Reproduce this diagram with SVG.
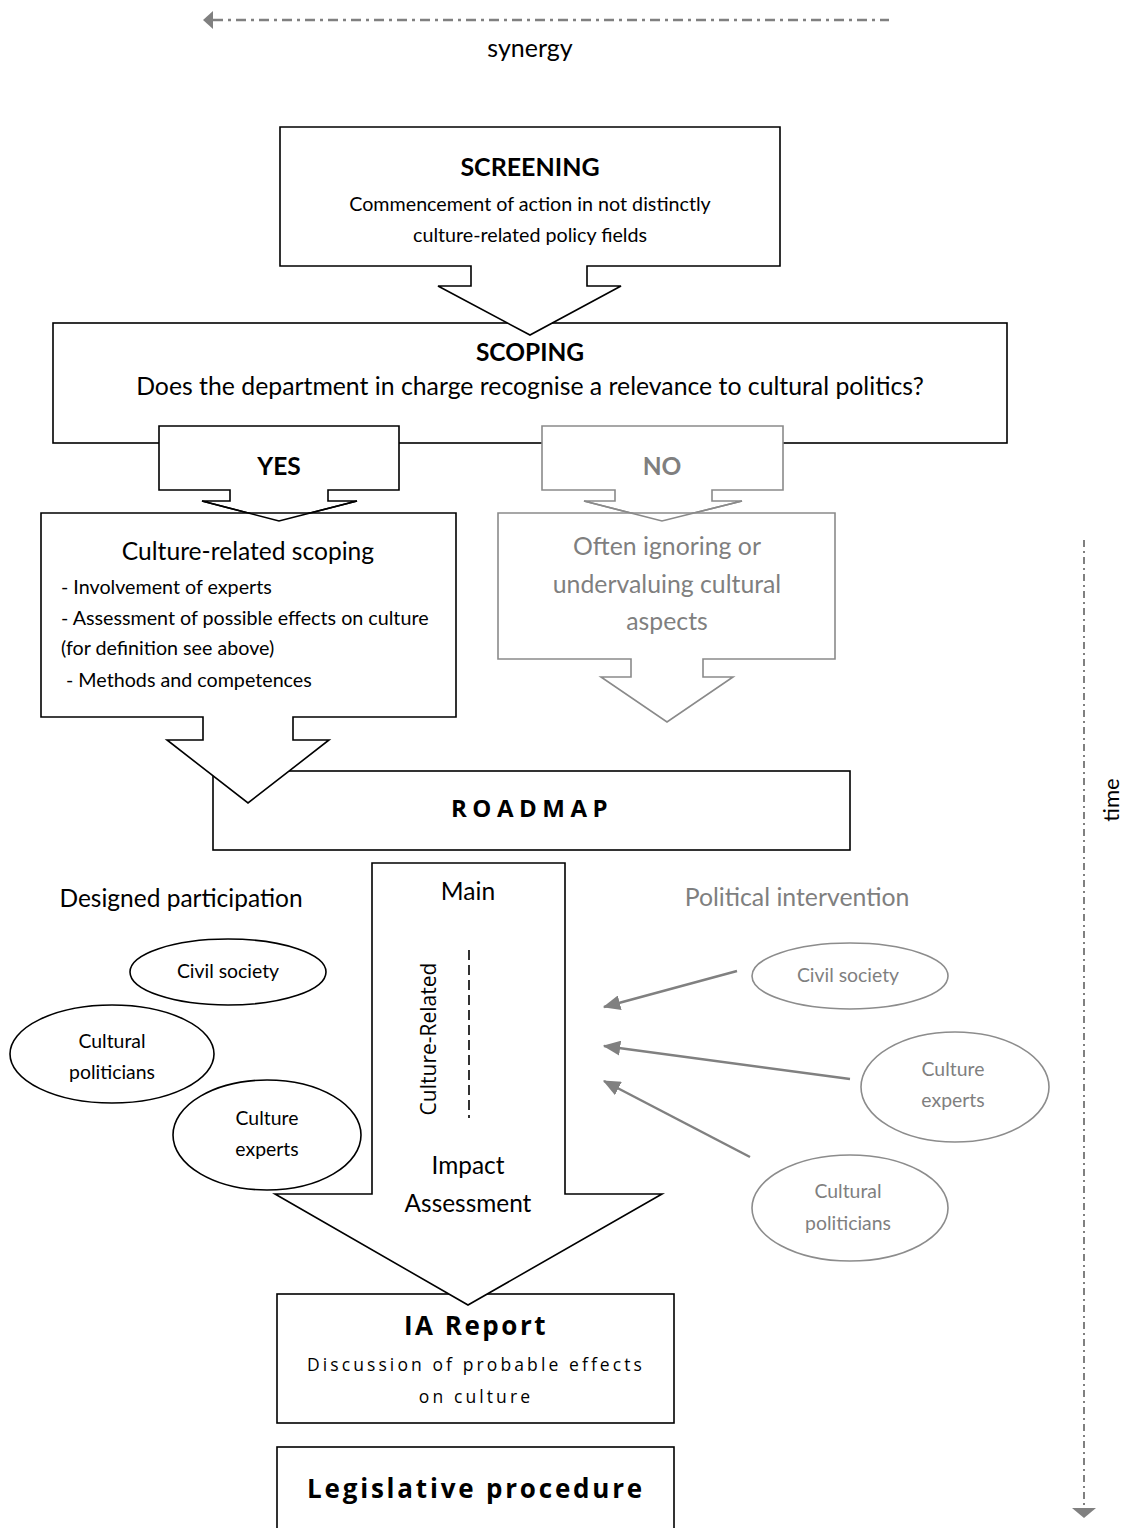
<svg xmlns="http://www.w3.org/2000/svg" width="1126" height="1528" viewBox="0 0 1126 1528">
<defs>
<style>
.box{fill:#fff;stroke:#000;stroke-width:1.6}
.boxn{fill:none;stroke:#000;stroke-width:1.6}
.gbox{fill:#fff;stroke:#8a8a8a;stroke-width:1.6}
.gline{fill:none;stroke:#8a8a8a;stroke-width:1.6}
.t{font-family:Lato,"Open Sans","Liberation Sans",sans-serif;fill:#000;text-anchor:middle}
.tl{font-family:Lato,"Open Sans","Liberation Sans",sans-serif;fill:#000}
.o{font-family:"Open Sans","Liberation Sans",sans-serif;fill:#000;text-anchor:middle}
.g{fill:#7f7f7f}
.b{font-weight:bold}
.ell{fill:none;stroke:#000;stroke-width:1.6}
.gell{fill:none;stroke:#8c8c8c;stroke-width:1.6}
.garr{stroke:#808080;stroke-width:2.5;fill:none}
.et{font-size:19.4px}
</style>
<marker id="ah" markerWidth="7" markerHeight="6" refX="6.5" refY="3" orient="auto" markerUnits="strokeWidth">
<path d="M0,0 L7,3 L0,6 Z" fill="#808080"/>
</marker>
</defs>
<rect width="1126" height="1528" fill="#fff"/>

<g id="synergy">
<line x1="213" y1="20" x2="889" y2="20" stroke="#808080" stroke-width="2.5" stroke-dasharray="10 5 3 5"/>
<polygon points="203,20 213,11 213,29" fill="#808080"/>
<text class="t" x="530" y="57" font-size="25">synergy</text>
</g>

<g id="time">
<line x1="1084" y1="540" x2="1084" y2="1508" stroke="#808080" stroke-width="2" stroke-dasharray="7 4 2 4"/>
<polygon points="1072,1508 1096,1508 1084,1518" fill="#808080"/>
<text class="t" font-size="22" transform="translate(1119,800) rotate(-90)">time</text>
</g>

<g id="scoping">
<rect class="box" x="53" y="323" width="954" height="120"/>
<text class="t b" x="530" y="361" font-size="24.5">SCOPING</text>
<text class="t" x="530" y="395" font-size="24.8">Does the department in charge recognise a relevance to cultural politics?</text>
</g>

<g id="screening">
<polygon class="box" points="280,127 780,127 780,266 587,266 587,286 621,286 530,335 438,286 471,286 471,266 280,266"/>
<text class="t b" x="530" y="176" font-size="25">SCREENING</text>
<text class="t" x="530" y="211" font-size="19.7">Commencement of action in not distinctly</text>
<text class="t" x="530" y="242" font-size="19.7">culture-related policy fields</text>
</g>

<g id="yes">
<polygon class="box" points="159,426 399,426 399,490 328,490 328,501 357,501 279,521 202,501 230,501 230,490 159,490"/>
<text class="t b" x="279" y="475" font-size="24.5">YES</text>
</g>

<g id="no">
<polygon class="gbox" points="542,426 783,426 783,490 712,490 712,501 742,501 662,521 584,501 615,501 615,490 542,490"/>
<text class="t b g" x="662" y="475" font-size="24.5">NO</text>
</g>

<g id="roadmap">
<rect class="box" x="213" y="771" width="637" height="79"/>
<text class="o b" x="532" y="817" font-size="24" letter-spacing="5.5">ROADMAP</text>
</g>

<g id="culture-scoping">
<polygon class="box" points="41,513 456,513 456,717 293,717 293,740 329,740 248,803 167,740 203,740 203,717 41,717"/>
<polyline class="boxn" points="202,501 279,521 357,501"/>
<text class="t" x="248" y="560" font-size="24.6">Culture-related scoping</text>
<text class="tl" x="61" y="594" font-size="19.7">- Involvement of experts</text>
<text class="tl" x="61" y="625" font-size="19.7">- Assessment of possible effects on culture</text>
<text class="tl" x="61" y="655" font-size="19.7">(for definition see above)</text>
<text class="tl" x="66" y="687" font-size="19.7">- Methods and competences</text>
</g>

<g id="ignoring">
<polygon class="gbox" points="498,513 835,513 835,659 703,659 703,677 733,677 667,722 601,677 631,677 631,659 498,659"/>
<polyline class="gline" points="584,501 662,521 742,501"/>
<text class="t g" x="667" y="555" font-size="24.8">Often ignoring or</text>
<text class="t g" x="667" y="593" font-size="24.8">undervaluing cultural</text>
<text class="t g" x="667" y="630" font-size="24.8">aspects</text>
</g>

<g id="ia-report">
<rect class="box" x="277" y="1294" width="397" height="129"/>
<text class="o b" x="476" y="1335" font-size="26" letter-spacing="2.5">IA Report</text>
<text class="o" x="476" y="1371" font-size="17.5" letter-spacing="3.1">Discussion of probable effects</text>
<text class="o" x="476" y="1403" font-size="17.5" letter-spacing="3.1">on culture</text>
</g>

<g id="main-ia">
<polygon class="box" points="372,863 565,863 565,1194 662,1194 468,1305 275,1194 372,1194"/>
<text class="t" x="468" y="900" font-size="24.6">Main</text>
<text class="o" font-size="21" transform="translate(436,1039) rotate(-90)">Culture-Related</text>
<line x1="469" y1="950" x2="469" y2="1118" stroke="#000" stroke-width="1.6" stroke-dasharray="10 5"/>
<text class="t" x="468" y="1174" font-size="24.4">Impact</text>
<text class="t" x="468" y="1212" font-size="24.4">Assessment</text>
</g>

<g id="legislative">
<rect class="box" x="277" y="1447" width="397" height="95"/>
<text class="o b" x="476" y="1498" font-size="26" letter-spacing="2.8">Legislative procedure</text>
</g>

<g id="designed-participation">
<text class="t" x="181" y="907" font-size="24.5">Designed participation</text>
</g>
<g id="dp-civil">
<ellipse class="ell" cx="228" cy="972" rx="98" ry="33"/>
<text class="t et" x="228" y="978">Civil society</text>
</g>
<g id="dp-politicians">
<ellipse class="ell" cx="112" cy="1054" rx="102" ry="49"/>
<text class="t et" x="112" y="1048">Cultural</text>
<text class="t et" x="112" y="1079">politicians</text>
</g>
<g id="dp-experts">
<ellipse class="ell" cx="267" cy="1135" rx="94" ry="55"/>
<text class="t et" x="267" y="1125">Culture</text>
<text class="t et" x="267" y="1156">experts</text>
</g>

<g id="political-intervention">
<text class="t g" x="797" y="906" font-size="24.8">Political intervention</text>
</g>
<g id="pi-civil">
<ellipse class="gell" cx="850" cy="976" rx="98" ry="33"/>
<text class="t g et" x="848" y="982">Civil society</text>
</g>
<g id="pi-experts">
<ellipse class="gell" cx="955" cy="1087" rx="94" ry="55"/>
<text class="t g et" x="953" y="1076">Culture</text>
<text class="t g et" x="953" y="1107">experts</text>
</g>
<g id="pi-politicians">
<ellipse class="gell" cx="850" cy="1208" rx="98" ry="53"/>
<text class="t g et" x="848" y="1198">Cultural</text>
<text class="t g et" x="848" y="1230">politicians</text>
</g>

<g id="connectors">
<line class="garr" x1="737" y1="971" x2="604" y2="1007" marker-end="url(#ah)"/>
<line class="garr" x1="850" y1="1079" x2="604" y2="1046" marker-end="url(#ah)"/>
<line class="garr" x1="750" y1="1157" x2="604" y2="1081" marker-end="url(#ah)"/>
</g>
</svg>
